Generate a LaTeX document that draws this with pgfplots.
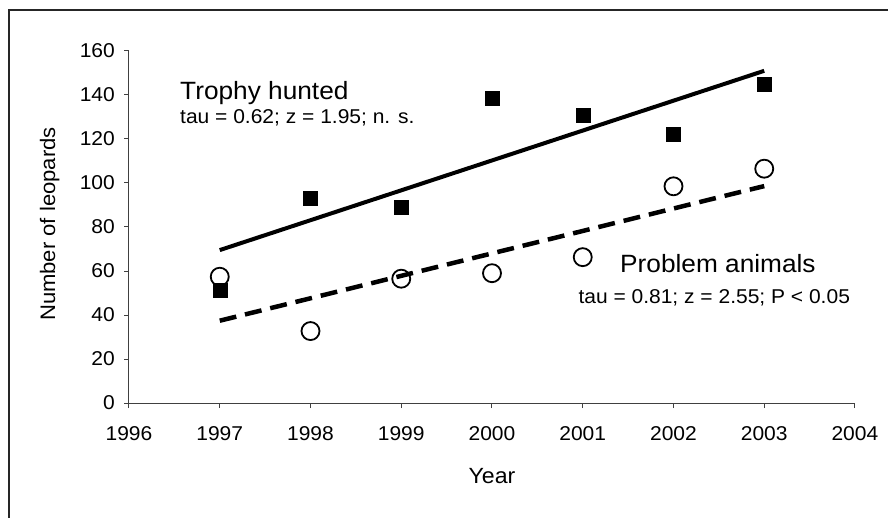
\documentclass[border=0pt]{standalone}
\usepackage{fontspec}
\setmainfont{Liberation Sans}[FakeStretch=1.05]
\usepackage{pgfplots}
\pgfplotsset{compat=1.18}
\begin{document}
\begin{tikzpicture}
\path[use as bounding box] (-129bp,-115bp) rectangle (759bp,403bp);
\draw[line width=1.3bp, black!85] (-120bp,-115bp) -- (-120bp,393bp) -- (759bp,393bp);
\begin{axis}[
  at={(0,0)}, anchor=south west,
  scale only axis, width=726bp, height=352bp,
  xmin=1996, xmax=2004, ymin=0, ymax=160,
  axis x line*=bottom, axis y line*=left,
  xtick={1996,1997,...,2004}, ytick={0,20,...,160},
  tick align=outside, major tick length=5bp,
  axis line style={black!75, line width=1bp},
  tick style={black!75, line width=1bp},
  /pgf/number format/assume math mode=true,
  /pgf/number format/1000 sep={},
  tick label style={font=\fontsize{20bp}{24bp}\selectfont},
  yticklabel style={anchor=east, inner sep=0pt, xshift=-9bp},
  xticklabel style={anchor=north, inner sep=0pt, yshift=-18bp},
  xlabel={Year},
  xlabel style={font=\fontsize{22bp}{26bp}\selectfont, at={(axis description cs:0.5,-0.2301)}, anchor=base, inner sep=0pt},
  ylabel={Number of leopards},
  ylabel style={font=\fontsize{21bp}{25bp}\selectfont, at={(axis description cs:-0.1019,0.5085)}, anchor=base, inner sep=0pt},
  clip=false,
]
\addplot[only marks, mark=square*, mark size=7bp, black] coordinates {
  (1997,51.5) (1998,93) (1999,89) (2000,138.5) (2001,131) (2002,122) (2003,145)
};
\addplot[only marks, mark=o, mark size=9bp, line width=1.8bp, black, fill=white,
  mark options={fill=white}] coordinates {
  (1997,57.4) (1998,32.7) (1999,56.5) (2000,59) (2001,66.3) (2002,98.5) (2003,106.5)
};
\addplot[black, line width=4bp] coordinates {(1997,69.5) (2003,151)};
\addplot[black, line width=4.5bp, dash pattern=on 17bp off 9bp] coordinates {(1997,37.4) (2003,98.6)};
\node[anchor=base west, inner sep=0pt, font=\fontsize{25bp}{30bp}\selectfont] at (axis cs:1996.562,138.05) {Trophy hunted};
\node[anchor=base west, inner sep=0pt, font=\fontsize{20bp}{24bp}\selectfont] at (axis cs:1996.562,127.1) {tau = 0.62; z = 1.95; n. s.};
\node[anchor=base west, inner sep=0pt, font=\fontsize{25bp}{30bp}\selectfont] at (axis cs:2001.41,59.3) {Problem animals};
\node[anchor=base west, inner sep=0pt, font=\fontsize{20bp}{24bp}\selectfont] at (axis cs:2000.951,45.3) {tau = 0.81; z = 2.55; P < 0.05};
\end{axis}
\end{tikzpicture}
\end{document}
